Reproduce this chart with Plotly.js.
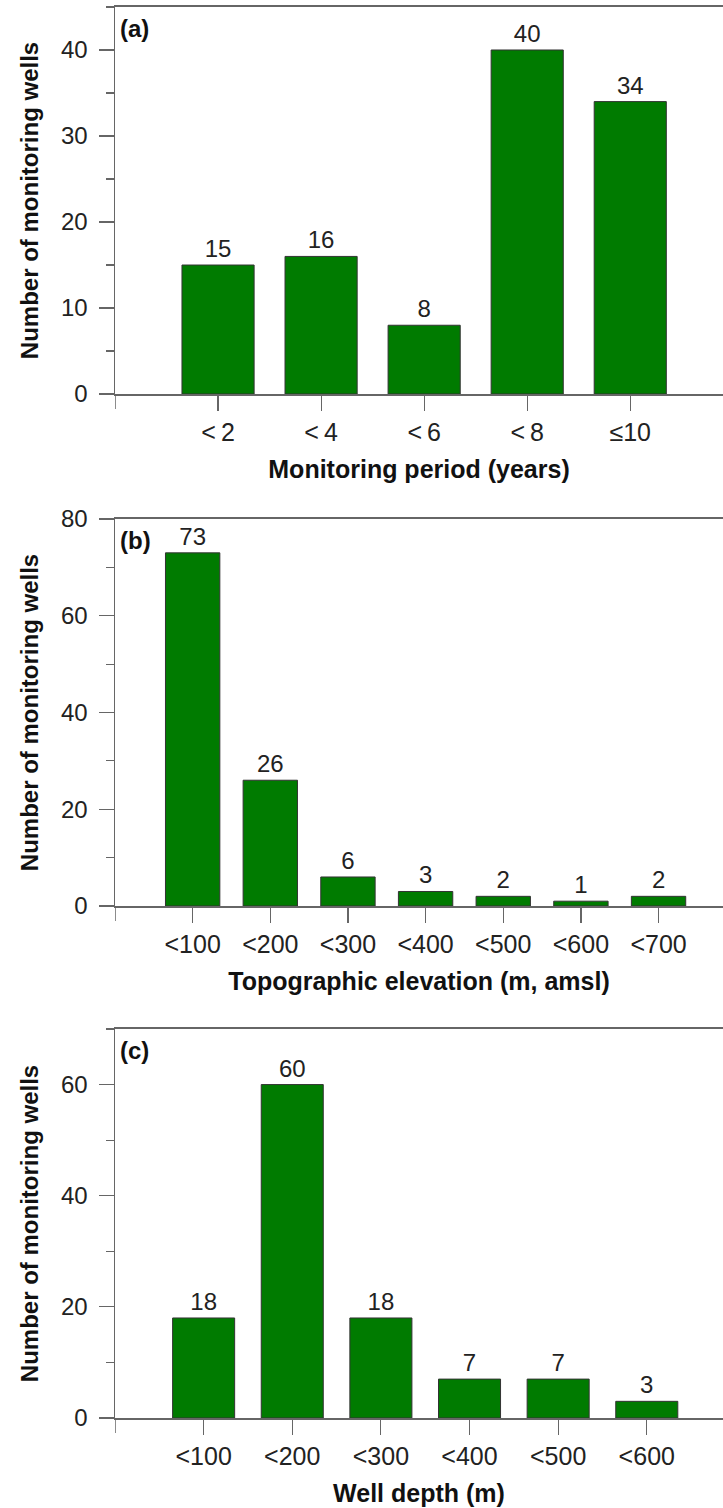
<!DOCTYPE html>
<html>
<head>
<meta charset="utf-8">
<script src="https://cdn.plot.ly/plotly-3.0.1.min.js"></script>
<style>html,body{margin:0;padding:0;overflow:hidden;background:#fff}</style>
</head>
<body>
<div id="chart" style="width:723px;height:1508px"></div>
<script>
// ---- data ----
const periodCats = ["<\u20092", "<\u20094", "<\u20096", "<\u20098", "\u226410"];
const periodVals = [15, 16, 8, 40, 34];

const elevCats = ["<100", "<200", "<300", "<400", "<500", "<600", "<700"];
const elevVals = [73, 26, 6, 3, 2, 1, 2];

const depthCats = ["<100", "<200", "<300", "<400", "<500", "<600"];
const depthVals = [18, 60, 18, 7, 7, 3];

const panelLabels = ["(a)", "(b)", "(c)"];
const xTitles = ["Monitoring period (years)", "Topographic elevation (m, amsl)", "Well depth (m)"];
const yTitle = "Number of monitoring wells";

// ---- style ----
const FONT = "Liberation Sans, Arial, Helvetica, sans-serif";
const barColor = "rgb(0,123,0)";
const axisCol = "#666";
const txtCol = "#222";

function barTrace(cats, vals, xa, ya) {
  return {
    type: "bar", x: cats, y: vals, xaxis: xa, yaxis: ya,
    marker: {color: barColor, line: {color: "#333", width: 1}},
    text: vals.map(String), textposition: "outside", cliponaxis: false,
    textfont: {family: FONT, size: 24, color: txtCol},
    hoverinfo: "skip"
  };
}

const traces = [
  barTrace(periodCats, periodVals, "x", "y"),
  barTrace(elevCats, elevVals, "x2", "y2"),
  barTrace(depthCats, depthVals, "x3", "y3")
];

function xAxis(title, range, anchor) {
  return {
    type: "category", anchor: anchor, range: range, domain: [0, 1],
    showline: true, linecolor: axisCol, linewidth: 1.5, mirror: true,
    ticks: "outside", ticklen: 15, tickwidth: 1.2, tickcolor: axisCol,
    tickfont: {family: FONT, size: 25, color: txtCol},
    ticklabelstandoff: 0,
    showgrid: false, zeroline: false, fixedrange: true,
    title: {text: title, font: {family: FONT, size: 25, color: "#111", weight: "bold"}, standoff: 16}
  };
}
function yAxis(range, domain, dtick, anchor) {
  return {
    anchor: anchor, range: range, domain: domain,
    showline: true, linecolor: axisCol, linewidth: 1.5,
    ticks: "outside", ticklen: 15, tickwidth: 1.2, tickcolor: axisCol,
    dtick: dtick, tick0: 0,
    minor: {dtick: dtick / 2, ticks: "outside", ticklen: 8, tickwidth: 1.2, tickcolor: axisCol, showgrid: false},
    tickfont: {family: FONT, size: 24, color: txtCol},
    ticklabelstandoff: 6,
    showgrid: false, zeroline: false, fixedrange: true,
    title: {text: yTitle, font: {family: FONT, size: 24, color: "#111", weight: "bold"}, standoff: 15}
  };
}

const doms = [[0.7387, 0.99536], [0.39920, 0.65584], [0.05968, 0.31764]];

function corner(xa, ya, plotH) {
  return {type: "line", xref: xa, yref: ya + " domain", x0: -1, x1: -1, y0: 0, y1: -15 / plotH,
          line: {color: axisCol, width: 1.5}};
}
function panelLabel(i, xa, ya) {
  return {text: "<b>" + panelLabels[i] + "</b>", xref: xa + " domain", yref: ya + " domain",
          x: 0, y: 1, xanchor: "left", yanchor: "top", xshift: 3, yshift: -6, showarrow: false,
          font: {family: FONT, size: 24, color: "#111"}};
}

const layout = {
  width: 723, height: 1508,
  margin: {l: 115, r: 0, t: 0, b: 0},
  paper_bgcolor: "#fff", plot_bgcolor: "#fff",
  showlegend: false, bargap: 0.3,
  xaxis: xAxis(xTitles[0], [-1, 4.9], "y"),
  yaxis: yAxis([0, 45], doms[0], 10, "x"),
  xaxis2: xAxis(xTitles[1], [-1, 6.83], "y2"),
  yaxis2: yAxis([0, 80], doms[1], 20, "x2"),
  xaxis3: xAxis(xTitles[2], [-1, 5.86], "y3"),
  yaxis3: yAxis([0, 70], doms[2], 20, "x3"),
  shapes: [corner("x", "y", 387), corner("x2", "y2", 387), corner("x3", "y3", 389)],
  annotations: [panelLabel(0, "x", "y"), panelLabel(1, "x2", "y2"), panelLabel(2, "x3", "y3")]
};

Plotly.newPlot("chart", traces, layout, {displayModeBar: false, staticPlot: true});
</script>
</body>
</html>
